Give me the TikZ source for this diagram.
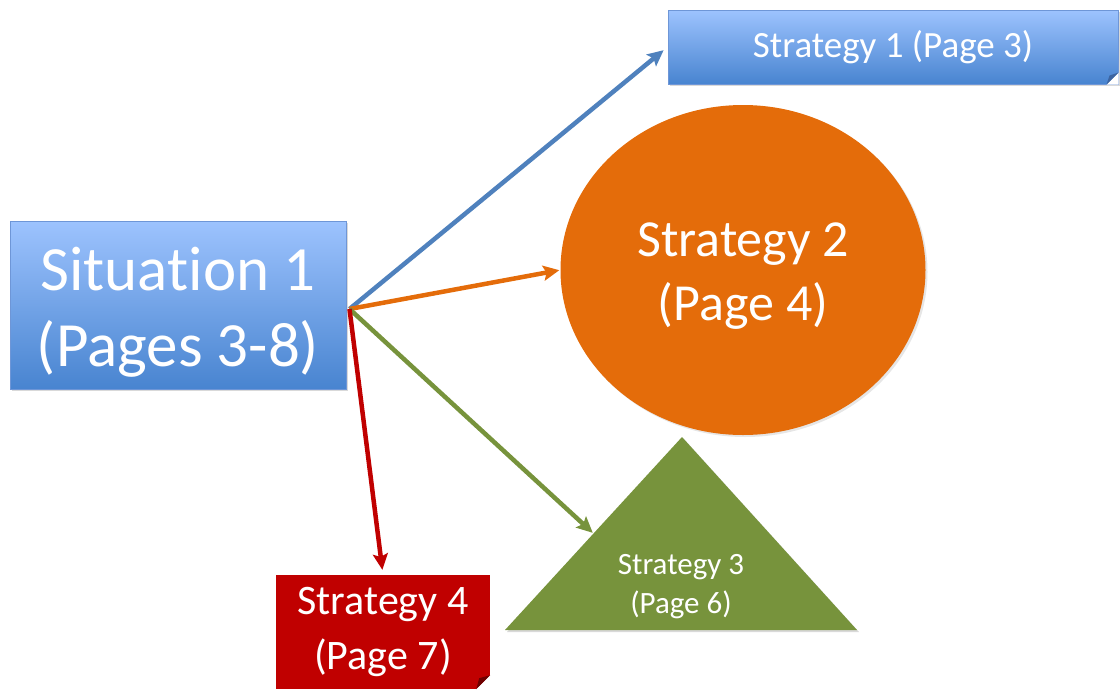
\documentclass[tikz,border=0pt]{standalone}
\usepackage{fontspec}
\setmainfont{Carlito}[Ligatures=NoCommon]
\usetikzlibrary{shapes.geometric,arrows.meta,shadows,calc}
\definecolor{bluetop}{RGB}{157,195,254}
\definecolor{bluebot}{RGB}{72,132,208}
\definecolor{blueedge}{RGB}{110,150,215}
\definecolor{bluefold}{RGB}{60,100,160}
\definecolor{linkblue}{RGB}{79,129,189}
\definecolor{stratorange}{RGB}{228,108,10}
\definecolor{stratgreen}{RGB}{119,147,60}
\definecolor{stratred}{RGB}{192,0,0}
\definecolor{redfold}{RGB}{110,0,0}
\tikzstyle{bluebox}=[rectangle,draw=blueedge,line width=1pt,top color=bluetop,bottom color=bluebot,text=white,align=center,inner sep=0pt,drop shadow={shadow xshift=2pt,shadow yshift=-2pt,opacity=0.3}]
\tikzstyle{link}=[line width=4.5pt,-{Stealth[length=16pt,width=15pt,inset=3pt]}]

\begin{document}
\begin{tikzpicture}[x=1pt,y=-1pt]
\useasboundingbox (0,0) rectangle (1120,689);

\node[bluebox,minimum width=336pt,minimum height=168pt,font=\fontsize{63}{76}\selectfont] (sit) at (178,305) {\rule{0pt}{58pt}Situation 1\\(Pages 3-8)};
\node[bluebox,minimum width=450pt,minimum height=74pt,font=\fontsize{37}{44}\selectfont] (strat1) at (893,47) {Strategy 1 (Page 3)};
\node[ellipse,fill=stratorange,text=white,align=center,minimum width=365pt,minimum height=330pt,inner sep=0pt,font=\fontsize{52}{64}\selectfont,drop shadow={shadow xshift=2pt,shadow yshift=-2pt,opacity=0.2}] (strat2) at (743,270) {\rule{0pt}{46pt}Strategy 2\\(Page 4)};
\node[rectangle,fill=stratred,text=white,align=center,minimum width=214pt,minimum height=114pt,inner sep=0pt,font=\fontsize{42}{55}\selectfont] (strat4) at (383,632) {Strategy 4\\(Page 7)};

% triangle
\coordinate (s3l) at (505,630);
\coordinate (s3r) at (857,630);
\coordinate (s3top) at (682,437);
\fill[stratgreen,drop shadow={shadow xshift=2pt,shadow yshift=-2pt,opacity=0.3}] (s3l) -- (s3top) -- (s3r) -- cycle;
\node[text=white,align=center,inner sep=0pt,font=\fontsize{31}{39}\selectfont] (strat3) at (681,587) {Strategy 3\\(Page 6)};
\coordinate (s3edge) at ($(s3l)!0.5!(s3top)$);

% folded corners
\fill[white] (strat1.south east) -- ++(-12,0) -- ++(12,-12) -- cycle;
\fill[bluefold] ($(strat1.south east)+(-12,0)$) -- ($(strat1.south east)+(0,-12)$) -- ($(strat1.south east)+(-9,-9)$) -- cycle;
\fill[white] (strat4.south east) -- ++(-14,0) -- ++(14,-14) -- cycle;
\fill[redfold] ($(strat4.south east)+(-14,0)$) -- ($(strat4.south east)+(0,-14)$) -- ($(strat4.south east)+(-11,-11)$) -- cycle;

\coordinate (hub) at ($(sit.east)+(3,4)$);
\draw[link,linkblue,shorten >=5pt] (hub) -- (strat1.west);
\draw[link,stratorange,shorten >=1pt] (hub) -- (strat2.west);
\draw[link,stratgreen,shorten >=1pt] (hub) -- (s3edge);
\draw[link,stratred,shorten >=5pt] (hub) -- (strat4.north);
\end{tikzpicture}
\end{document}
